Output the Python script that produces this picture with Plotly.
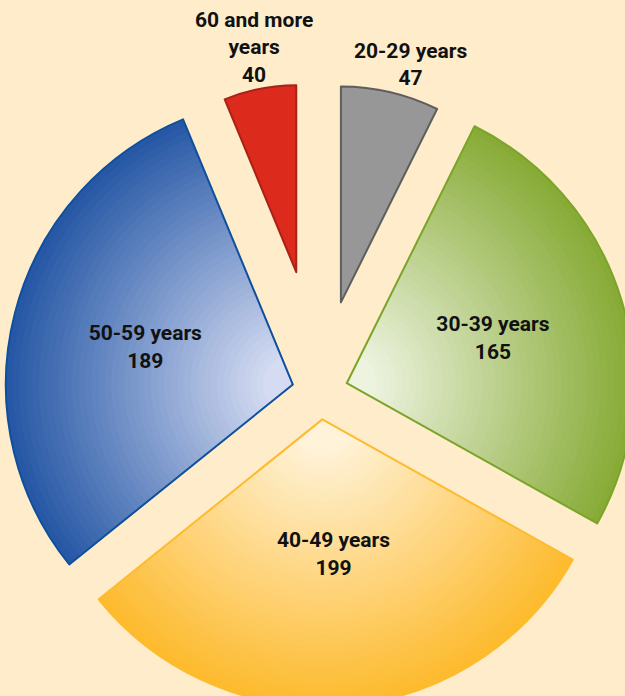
import math
import plotly.graph_objects as go

# ---------------- data ----------------
categories = ["20-29 years", "30-39 years", "40-49 years", "50-59 years", "60 and more years"]
counts = [47, 165, 199, 189, 40]
label_lines = ["20-29 years", "30-39 years", "40-49 years", "50-59 years", "60 and more<br>years"]

# ---------------- layout / style constants ----------------
FIG_W, FIG_H = 650, 720
CENTER = (320.0, 391.5)          # pie centre on screen (px)
RADIUS = [216, 287, 287, 287, 187]
PULL_PX = [91.5, 28, 28, 28, 121.7]
LABEL_R = {1: 264, 2: 247, 3: 274}  # radius of the (invisible) pie that carries each inside label
BIG = [1, 2, 3]
N_LAYERS = 40
R_MIN = 30
BG = "#FEECCB"
FONT = "Roboto, Liberation Sans Narrow, Arial Narrow, sans-serif"
FONT_SIZE = 21
TEXT_COLOR = "#111111"
TRANSP = "rgba(0,0,0,0)"
LIGHT = {1: (247, 250, 240), 2: (255, 249, 236), 3: (230, 233, 250)}
DARK = {1: (134, 170, 52), 2: (253, 186, 44), 3: (36, 86, 164)}
FILL = {0: "#979797", 4: "#DC2A1D"}
EDGE = {0: "#5E5E5E", 1: "#7BA428", 2: "#FDBB2D", 3: "#0E4F9E", 4: "#A82216"}
LABEL_XSHIFT = {0: 20, 4: -6}

n = len(counts)
cx, cy = CENTER


def domain(half):
    x0 = max(0.0, (cx - half) / FIG_W)
    x1 = min(1.0, (cx + half) / FIG_W)
    y0 = max(0.0, (FIG_H - (cy + half)) / FIG_H)
    y1 = min(1.0, (FIG_H - (cy - half)) / FIG_H)
    return dict(x=[x0, x1], y=[y0, y1])


def rgb(c):
    return "rgb(%d,%d,%d)" % tuple(int(round(v)) for v in c)


fig = go.Figure()
common = dict(values=counts, labels=categories, sort=False, direction="clockwise",
              rotation=0, showlegend=False)
big_pull = max(PULL_PX[i] for i in BIG)

# gradient layers for the three large slices (outer/dark to inner/light)
for k in range(N_LAYERS, 0, -1):
    rk = R_MIN + (RADIUS[1] - R_MIN) * (k - 1) / (N_LAYERS - 1)
    t = max(0.0, rk / RADIUS[1] - 0.5 / N_LAYERS)
    cols, pulls = [], []
    for i in range(n):
        if i in BIG:
            cols.append(rgb([LIGHT[i][j] + (DARK[i][j] - LIGHT[i][j]) * t for j in range(3)]))
            pulls.append(PULL_PX[i] / rk)
        else:
            cols.append(TRANSP)
            pulls.append(0)
    fig.add_trace(go.Pie(**common, pull=pulls, domain=domain(rk + big_pull),
                         marker=dict(colors=cols, line=dict(width=0)),
                         textinfo="none", hoverinfo="skip"))

# outline of the large slices
r = RADIUS[1]
fig.add_trace(go.Pie(
    **common,
    pull=[PULL_PX[i] / r if i in BIG else 0 for i in range(n)],
    domain=domain(r + big_pull),
    marker=dict(colors=[TRANSP] * n,
                line=dict(color=[EDGE[i] if i in BIG else TRANSP for i in range(n)],
                          width=[2 if i in BIG else 0 for i in range(n)])),
    textinfo="none", hoverinfo="label+value",
))

# inside labels of the large slices
for i in BIG:
    rl = LABEL_R[i]
    fig.add_trace(go.Pie(
        **common,
        pull=[PULL_PX[i] / rl if j == i else 0 for j in range(n)],
        domain=domain(rl + PULL_PX[i]),
        marker=dict(colors=[TRANSP] * n, line=dict(width=0)),
        text=["%s<br>%d" % (label_lines[j], counts[j]) if j == i else "" for j in range(n)],
        textinfo="text", textposition="inside", insidetextorientation="horizontal",
        textfont=dict(family=FONT, size=FONT_SIZE, color=TEXT_COLOR, weight="bold"),
        hoverinfo="skip",
    ))

# the two small slices, each with its own radius
total = sum(counts)
start = 0.0
mids = []
for v in counts:
    mids.append((start + v / 2) / total * 2 * math.pi)
    start += v

for i in (0, 4):
    ri = RADIUS[i]
    fig.add_trace(go.Pie(
        **common,
        pull=[PULL_PX[i] / ri if j == i else 0 for j in range(n)],
        domain=domain(ri + PULL_PX[i]),
        marker=dict(colors=[FILL[i] if j == i else TRANSP for j in range(n)],
                    line=dict(color=[EDGE[i] if j == i else TRANSP for j in range(n)],
                              width=[2 if j == i else 0 for j in range(n)])),
        textinfo="none", hoverinfo="label+value",
    ))
    dist = ri + PULL_PX[i]
    sx = cx + dist * math.sin(mids[i])
    sy = cy - dist * math.cos(mids[i])
    fig.add_annotation(
        x=sx / FIG_W, y=1 - sy / FIG_H,
        xref="paper", yref="paper", xanchor="center", yanchor="bottom",
        xshift=LABEL_XSHIFT[i], yshift=0, showarrow=False,
        text="%s<br>%d" % (label_lines[i], counts[i]),
        font=dict(family=FONT, size=FONT_SIZE, color=TEXT_COLOR, weight="bold"),
    )

fig.update_layout(width=FIG_W, height=FIG_H, margin=dict(l=0, r=0, t=0, b=0),
                  paper_bgcolor=BG, plot_bgcolor=BG)
fig.write_html(
    "out.html",
    config={"displayModeBar": False},
    post_script="document.body.style.margin='0';"
                "document.body.style.background='%s';"
                "document.documentElement.style.overflow='hidden';"
                "document.body.style.overflow='hidden';" % BG,
)
